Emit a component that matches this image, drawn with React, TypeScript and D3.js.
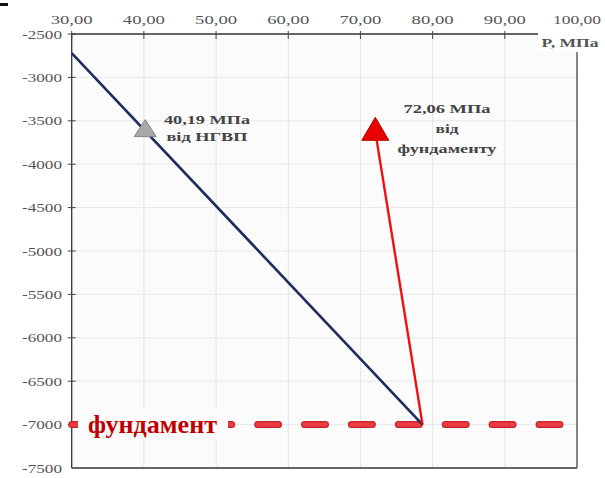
import * as d3 from 'd3';

// P, MPa ticks along the top axis
const pTicks = [30, 40, 50, 60, 70, 80, 90, 100];
// depth ticks along the left axis
const depthTicks = [-2500, -3000, -3500, -4000, -4500, -5000, -5500, -6000, -6500, -7000, -7500];

// НГВП pressure line
const ngvpLine = [
  { p: 30, h: -2720 },
  { p: 78.6, h: -7000 },
];
// pressure from the foundation
const foundationLine = [
  { p: 78.6, h: -7000 },
  { p: 72.06, h: -3625 },
];
const foundationLevel = -7000;
const ngvpMarker = { p: 40.19, h: -3617 };
const foundationMarker = { p: 72.06, h: -3625 };

const ngvpLabel = ['40,19 МПа', 'від НГВП'];
const foundationLabel = ['72,06 МПа', 'від', 'фундаменту'];

const width = 605;
const height = 478;
const serif = '"Liberation Serif", "DejaVu Serif", serif';

export default function App() {
  const x = d3.scaleLinear().domain([30, 100]).range([71.7, 577]);
  const y = d3.scaleLinear().domain([-2500, -7500]).range([34, 468]);

  const line = d3
    .line<{ p: number; h: number }>()
    .x((d) => x(d.p))
    .y((d) => y(d.h));

  const left = x(30);
  const right = x(100);
  const top = y(-2500);
  const bottom = y(-7500);

  const tri = (cx: number, cy: number, w: number, h: number) =>
    `M${cx},${cy - (h * 2) / 3}L${cx + w / 2},${cy + h / 3}L${cx - w / 2},${cy + h / 3}Z`;

  const fy = y(foundationLevel);
  const gm = { x: x(ngvpMarker.p), y: y(ngvpMarker.h) };
  const rm = { x: x(foundationMarker.p), y: y(foundationMarker.h) };

  return (
    <svg
      width={width}
      height={height}
      style={{ position: 'absolute', left: 0, top: 0, background: '#fff' }}
      fontFamily={serif}
    >
      <rect x={0} y={3} width={8} height={3} fill="#111" />
      <rect x={left} y={top} width={right - left} height={bottom - top} fill="#fbfbfc" />

      {/* grid */}
      {pTicks.slice(1, -1).map((t) => (
        <line key={'gx' + t} x1={x(t)} x2={x(t)} y1={top} y2={bottom} stroke="#e4e4e6" strokeWidth={1} />
      ))}
      {depthTicks.slice(1, -1).map((t) => (
        <line key={'gy' + t} x1={left} x2={right} y1={y(t)} y2={y(t)} stroke="#e8e8ea" strokeWidth={1} />
      ))}

      {/* frame */}
      <line x1={left} x2={left} y1={top} y2={bottom} stroke="#333" strokeWidth={1.3} />
      <line x1={left} x2={right} y1={bottom} y2={bottom} stroke="#333" strokeWidth={1.3} />
      <line x1={right} x2={right} y1={52} y2={bottom} stroke="#444" strokeWidth={1.3} />
      <line x1={left} x2={538} y1={top} y2={top} stroke="#333" strokeWidth={1.3} />

      {/* ticks */}
      {pTicks.slice(0, -1).map((t) => (
        <line key={'tx' + t} x1={x(t)} x2={x(t)} y1={top - 3} y2={top + 5} stroke="#444" strokeWidth={1} />
      ))}
      {depthTicks.slice(0, -1).map((t) => (
        <line key={'ty' + t} x1={left - 4} x2={left + 4} y1={y(t)} y2={y(t)} stroke="#444" strokeWidth={1} />
      ))}

      {/* tick labels */}
      {pTicks.map((t) => (
        <text
          key={'lx' + t}
          x={x(t)}
          y={24}
          textAnchor="middle"
          fontSize={13}
          fill="#555"
          textLength={t === 100 ? 48 : 42}
          lengthAdjust="spacingAndGlyphs"
        >
          {t.toFixed(2).replace('.', ',')}
        </text>
      ))}
      {depthTicks.map((t) => (
        <text
          key={'ly' + t}
          x={62}
          y={y(t) + 4.5}
          textAnchor="end"
          fontSize={13}
          fill="#555"
          textLength={40}
          lengthAdjust="spacingAndGlyphs"
        >
          {t}
        </text>
      ))}

      <rect x={539} y={34} width={66} height={17} fill="#fff" />
      <text x={541.5} y={47} fontSize={13} fontWeight="bold" fill="#555" textLength={57} lengthAdjust="spacingAndGlyphs">
        P, МПа
      </text>

      {/* foundation level */}
      <line
        x1={left}
        x2={right}
        y1={fy}
        y2={fy}
        stroke="#c4252b"
        strokeWidth={7}
        strokeLinecap="round"
        strokeDasharray="21 25.9"
        strokeDashoffset={1.7}
      />
      <line
        x1={left}
        x2={right}
        y1={fy}
        y2={fy}
        stroke="#ec3b42"
        strokeWidth={4.5}
        strokeLinecap="round"
        strokeDasharray="21 25.9"
        strokeDashoffset={1.7}
      />
      <rect x={78} y={fy - 16} width={150} height={30} fill="#fbfbfc" />
      <text x={88} y={fy + 8} fontSize={25} fontWeight="bold" fill="#c00000" textLength={129} lengthAdjust="spacingAndGlyphs">
        фундамент
      </text>

      {/* pressure lines */}
      <path d={line(ngvpLine) ?? ''} fill="none" stroke="#1f2d5c" strokeWidth={2.6} />
      <path d={line(foundationLine) ?? ''} fill="none" stroke="#f01010" strokeWidth={2.4} />

      <path d={tri(gm.x, gm.y, 22, 17)} fill="#a9a9ad" stroke="#85858a" strokeWidth={1} />
      <path d={tri(rm.x, rm.y + 1, 27, 23)} fill="#e80000" stroke="#b00000" strokeWidth={1} />

      {/* annotations */}
      {ngvpLabel.map((s, i) => (
        <text
          key={'na' + i}
          x={207}
          y={124 + i * 17}
          textAnchor="middle"
          fontSize={12.5}
          fontWeight="bold"
          fill="#444"
          textLength={i === 0 ? 86 : 81}
          lengthAdjust="spacingAndGlyphs"
        >
          {s}
        </text>
      ))}
      {foundationLabel.map((s, i) => (
        <text
          key={'fa' + i}
          x={447}
          y={113 + i * 20}
          textAnchor="middle"
          fontSize={12.5}
          fontWeight="bold"
          fill="#444"
          textLength={[87, 23, 99][i]}
          lengthAdjust="spacingAndGlyphs"
        >
          {s}
        </text>
      ))}
    </svg>
  );
}
